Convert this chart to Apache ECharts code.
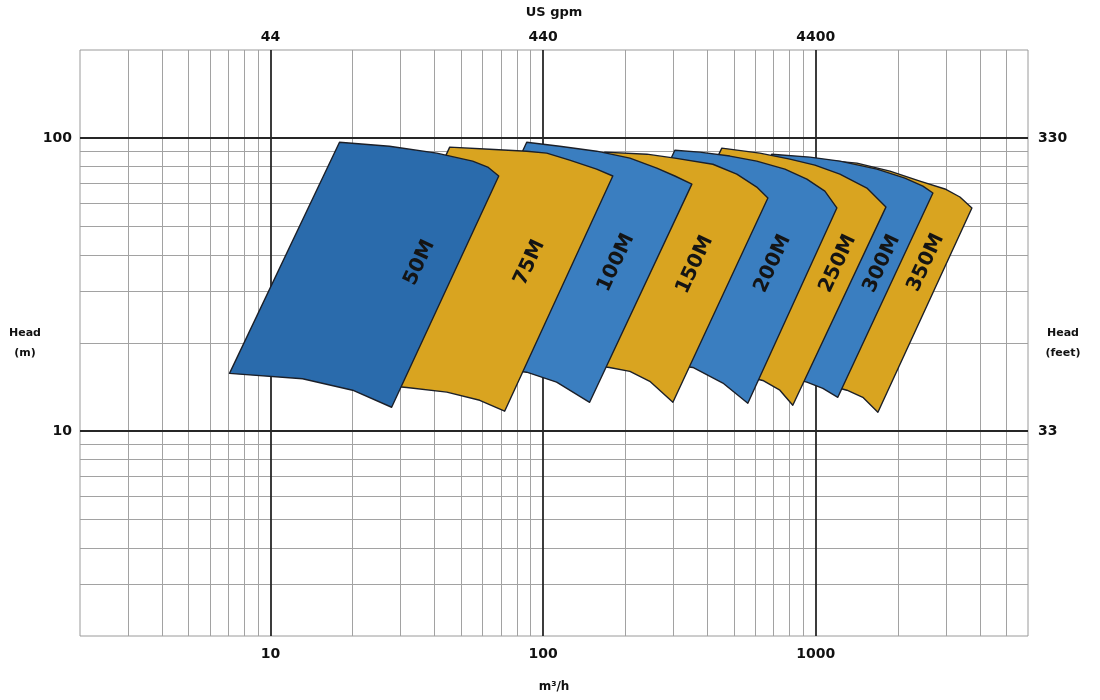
<!DOCTYPE html>
<html>
<head>
<meta charset="utf-8">
<script src="https://cdn.jsdelivr.net/npm/echarts@6.0.0/dist/echarts.min.js"></script>
<style>
  html, body { margin: 0; padding: 0; background: #ffffff; }
  #chart { width: 1100px; height: 700px; }
</style>
</head>
<body>
<div id="chart"></div>
<script>
// ---- Data (flow in m³/h, head in m) ----
const models = ['50M', '75M', '100M', '150M', '200M', '250M', '300M', '350M'];

// Outline of each operating envelope: top edge (left→right), then bottom edge (right→left)
const outline50M  = [[17.9,96.9],[27.3,93.9],[40.7,88.9],[55.1,83.5],[62.6,79.7],[68.7,74.3],[27.8,12.07],[20.0,13.8],[13.1,15.1],[7.07,15.75]];
const outline75M  = [[45.4,93.2],[63.6,91.7],[87.0,90.3],[103,88.9],[125,84.2],[157,78.4],[180,74.3],[72.2,11.7],[58.5,12.75],[44.3,13.6],[31.6,14.1],[18.2,14.8]];
const outline100M = [[87.0,96.9],[115,93.9],[157,90.3],[208,85.5],[261,79.1],[304,74.3],[351,69.7],[148,12.55],[112,14.7],[87.0,15.9],[63.6,16.5],[36.4,16.9]];
const outline150M = [[168,89.6],[240,88.2],[304,85.5],[419,81.5],[513,75.4],[607,68.1],[667,62.5],[299,12.55],[246,14.8],[208,16.0],[175,16.5],[125,17.2],[74.7,17.4]];
const outline200M = [[304,91.0],[375,89.6],[484,86.9],[607,83.5],[770,78.4],[927,72.5],[1079,66.0],[1194,57.8],[563,12.45],[456,14.6],[354,16.5],[246,17.3],[134,17.7]];
const outline250M = [[452,92.5],[623,88.9],[803,84.8],[992,80.9],[1225,75.4],[1539,67.6],[1807,58.2],[823,12.26],[738,13.8],[639,14.9],[549,15.4],[375,16.6],[188,17.2]];
const outline300M = [[689,88.2],[951,86.2],[1225,83.5],[1675,78.4],[2121,73.1],[2470,68.6],[2688,65.0],[1204,13.05],[1061,14.0],[927,14.7],[623,16.1],[296,16.8]];
const outline350M = [[992,84.8],[1415,82.2],[1870,77.2],[2408,71.4],[2975,67.1],[3376,63.0],[3736,57.8],[1689,11.6],[1487,13.05],[1300,13.8],[911,15.1],[415,15.9]];

// Where each model name sits (flow, head)
const labelFlow = [35.2, 89.2, 185, 360, 695, 1205, 1747, 2533];
const labelHead = [37.6, 37.6, 37.6, 37.0, 37.3, 37.3, 37.3, 37.6];

// Axis ranges, grid lines and tick labels
const flowRange = [2, 6000];
const headRange = [2, 200];
const flowMajor = [10, 100, 1000];
const flowMinor = [3,4,5,6,7,8,9,20,30,40,50,60,70,80,90,200,300,400,500,600,700,800,900,2000,3000,4000,5000];
const headMajor = [10, 100];
const headMinor = [3,4,5,6,7,8,9,20,30,40,50,60,70,80,90];
const flowLabels = ['10', '100', '1000'];
const gpmLabels  = ['44', '440', '4400'];
const headLabels = ['10', '100'];
const feetLabels = ['33', '330'];

// ---- Chart ----
const outlines = [outline50M, outline75M, outline100M, outline150M, outline200M, outline250M, outline300M, outline350M];
const palette = ['#2a6bac', '#d9a420', '#3a7ec0', '#d9a420', '#3a7ec0', '#d9a420', '#3a7ec0', '#d9a420'];

function pick(majors, labels) {
  return function (v) {
    for (let k = 0; k < majors.length; k++) {
      if (Math.abs(majors[k] - v) / majors[k] < 1e-6) return labels[k];
    }
    return '';
  };
}

const FONT = '"DejaVu Sans", "Liberation Sans", sans-serif';
const tickLabel = { fontFamily: FONT, fontWeight: 'bold', fontSize: 14, color: '#111' };
const nameStyle = { fontFamily: FONT, fontWeight: 'bold', fontSize: 12, color: '#111' };

// draw smallest model last so it sits on top
const order = models.map((m, i) => i).reverse();
const seriesData = order.map(i => [labelFlow[i], labelHead[i], i]);

const gridLines = []
  .concat(flowMinor.map(v => ({ xAxis: v })))
  .concat(headMinor.map(v => ({ yAxis: v })))
  .concat(flowMajor.map(v => ({ xAxis: v, lineStyle: { color: '#262626', width: 1.8 } })))
  .concat(headMajor.map(v => ({ yAxis: v, lineStyle: { color: '#262626', width: 1.8 } })));

const chart = echarts.init(document.getElementById('chart'), null, { renderer: 'canvas' });
chart.setOption({
  animation: false,
  backgroundColor: '#ffffff',
  grid: {
    left: 80, right: 72, top: 50, bottom: 64,
    show: true, borderColor: '#9a9a9a', borderWidth: 1,
    outerBoundsMode: 'none'
  },
  xAxis: [
    {
      type: 'log', logBase: 10, min: flowRange[0], max: flowRange[1], position: 'bottom',
      name: 'm³/h', nameLocation: 'middle', nameGap: 45, nameMoveOverlap: false,
      nameTextStyle: Object.assign({}, nameStyle, { fontSize: 12 }),
      axisLine: { show: false }, axisTick: { show: false }, splitLine: { show: false },
      axisLabel: Object.assign({ margin: 11, formatter: pick(flowMajor, flowLabels) }, tickLabel)
    },
    {
      type: 'log', logBase: 10, min: flowRange[0], max: flowRange[1], position: 'top',
      name: 'US gpm', nameLocation: 'middle', nameGap: 31, nameMoveOverlap: false,
      nameTextStyle: Object.assign({}, nameStyle, { fontSize: 13 }),
      axisLine: { show: false }, axisTick: { show: false }, splitLine: { show: false },
      axisLabel: Object.assign({ margin: 6, formatter: pick(flowMajor, gpmLabels) }, tickLabel)
    }
  ],
  yAxis: [
    {
      type: 'log', logBase: 10, min: headRange[0], max: headRange[1], position: 'left',
      name: 'Head\n(m)', nameLocation: 'middle', nameGap: 55, nameRotate: 0, nameMoveOverlap: false,
      nameTextStyle: Object.assign({}, nameStyle, { fontSize: 11, align: 'center', verticalAlign: 'middle', lineHeight: 20 }),
      axisLine: { show: false }, axisTick: { show: false }, splitLine: { show: false },
      axisLabel: Object.assign({ margin: 8, formatter: pick(headMajor, headLabels) }, tickLabel)
    },
    {
      type: 'log', logBase: 10, min: headRange[0], max: headRange[1], position: 'right',
      name: 'Head\n(feet)', nameLocation: 'middle', nameGap: 35, nameRotate: 0, nameMoveOverlap: false,
      nameTextStyle: Object.assign({}, nameStyle, { fontSize: 11, align: 'center', verticalAlign: 'middle', lineHeight: 20 }),
      axisLine: { show: false }, axisTick: { show: false }, splitLine: { show: false },
      axisLabel: Object.assign({ margin: 10, formatter: pick(headMajor, feetLabels) }, tickLabel)
    }
  ],
  series: [
    {
      type: 'line', xAxisIndex: 0, yAxisIndex: 0, data: [], silent: true, z: 1,
      markLine: {
        silent: true, animation: false, symbol: ['none', 'none'], z: 1,
        label: { show: false }, emphasis: { disabled: true },
        lineStyle: { color: '#a2a2a2', width: 1, type: 'solid' },
        data: gridLines
      }
    },
    {
      type: 'custom', xAxisIndex: 0, yAxisIndex: 0, z: 10, silent: true,
      encode: { x: 0, y: 1 },
      data: seriesData,
      renderItem: function (params, api) {
        const i = api.value(2);
        const pts = outlines[i].map(p => api.coord(p));
        const c = api.coord([api.value(0), api.value(1)]);
        return {
          type: 'group',
          children: [
            {
              type: 'polygon',
              shape: { points: pts },
              style: { fill: palette[i], stroke: '#1b1f28', lineWidth: 1.4, lineJoin: 'round' }
            },
            {
              type: 'text',
              x: c[0], y: c[1],
              rotation: 65 * Math.PI / 180,
              style: {
                text: models[i], fill: '#141414',
                font: 'bold 20px ' + FONT,
                align: 'center', verticalAlign: 'middle'
              }
            }
          ]
        };
      }
    }
  ]
});
</script>
</body>
</html>
